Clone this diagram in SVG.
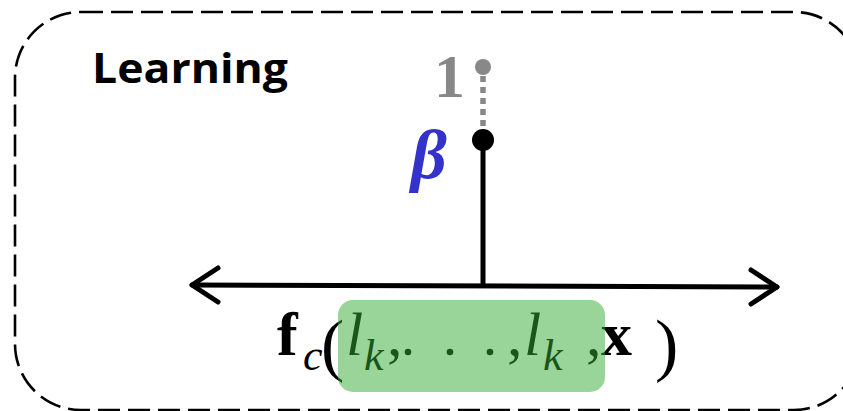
<svg xmlns="http://www.w3.org/2000/svg" width="843" height="411" viewBox="0 0 843 411">
<style>
.frame{fill:none;stroke:#000;stroke-width:2.6;stroke-dasharray:22 8}
.axis{stroke:#000;stroke-width:5;stroke-linecap:round;fill:none;stroke-linejoin:round}
.m{font-family:"Liberation Serif","Times New Roman",serif;fill:#000}
.it{font-style:italic}
.bd{font-weight:bold}
.big{font-size:62px}
.sub{font-size:44px;font-style:italic}
.par{font-size:70px}
</style>
<rect class="frame" x="15" y="12" width="845" height="398" rx="66" ry="66"/>
<g id="title">
<text x="92" y="83" font-family="Open Sans, Liberation Sans, sans-serif" font-weight="bold" font-size="42" textLength="196" lengthAdjust="spacingAndGlyphs">Learning</text>
</g>
<g id="connectors">
<line class="axis" x1="192" y1="285" x2="777" y2="287"/>
<polyline class="axis" points="218,268 192,285 218,302"/>
<polyline class="axis" points="751,270 777,287 751,304"/>
<line x1="483" y1="140" x2="483" y2="285" stroke="#000" stroke-width="5"/>
<line x1="483" y1="76" x2="483" y2="130" stroke="#888" stroke-width="5.5" stroke-dasharray="6 5"/>
</g>
<g id="beta-node">
<circle cx="483" cy="140" r="11" fill="#000"/>
<text class="m it bd" x="411" y="178" font-size="70" style="fill:#3333cc">β</text>
</g>
<g id="one-node">
<circle cx="483" cy="67" r="8" fill="#888"/>
<text class="m bd" x="434" y="97" font-size="62" style="fill:#888">1</text>
</g>
<g id="formula">
<text class="m bd big" x="277" y="355">f</text>
<text class="m sub" x="303" y="370">c</text>
<text class="m par" x="321" y="368">(</text>
<text class="m it big" x="346" y="355">l</text>
<text class="m sub" x="364" y="370">k</text>
<text class="m big" x="387" y="355">,</text>
<circle cx="408" cy="352" r="3.3" fill="#000"/>
<circle cx="450" cy="352" r="3.3" fill="#000"/>
<circle cx="490" cy="352" r="3.3" fill="#000"/>
<text class="m big" x="507" y="355">,</text>
<text class="m it big" x="524" y="355">l</text>
<text class="m sub" x="543" y="370">k</text>
<text class="m big" x="586" y="355">,</text>
<text class="m bd big" x="601" y="355">x</text>
<text class="m par" x="655" y="368">)</text>
<rect x="338" y="300" width="267" height="92" rx="15" ry="15" fill="#33aa33" fill-opacity="0.5"/>
</g>
</svg>
